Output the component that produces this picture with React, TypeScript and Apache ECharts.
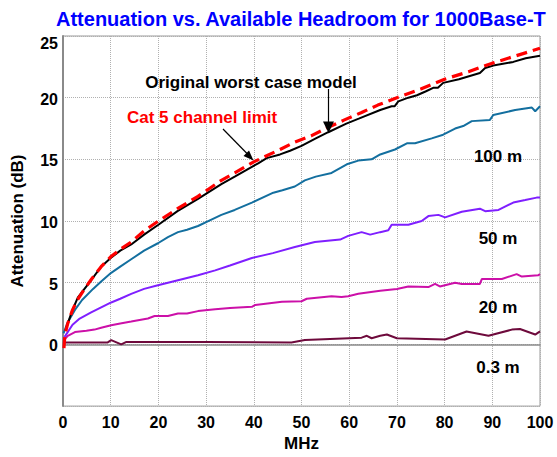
import React, { useEffect, useRef } from "react";
import * as echarts from "echarts";

const FONT = 'Arial, "Liberation Sans", sans-serif';

const titleText = "Attenuation vs. Available Headroom for 1000Base-T";
const xAxisName = "MHz";
const yAxisName = "Attenuation (dB)";
const xTicks = { min: 0, max: 100, interval: 10 };
const yTicks = { min: -5, max: 25, interval: 5 };

const cat5Limit: number[][] = [
  [0.2, -0.3], [0.4, 0.8], [1, 1.7], [2, 2.8], [3, 3.6], [4.5, 4.5], [6, 5.3], [8, 6.3],
  [10, 7.1], [12, 7.7], [14.3, 8.3], [17, 9.2], [20, 10.0], [24, 11.0], [28.3, 12.0],
  [33.2, 13.3], [36, 13.9], [40, 14.8], [45.5, 15.8], [48.6, 16.4], [52, 16.9], [55.6, 17.6],
  [59, 18.2], [62.6, 18.8], [66, 19.4], [70, 20.0], [75, 20.7], [80, 21.5], [85, 22.1],
  [90, 22.8], [95, 23.4], [100, 24.0],
];

const worstCase: number[][] = [
  [0.5, 1.1], [1, 1.7], [2, 2.8], [3.1, 3.8], [4.5, 4.5], [5.9, 5.2], [8, 6.3], [10, 7.0],
  [12, 7.6], [14.3, 8.1], [17, 8.9], [20, 9.7], [24, 10.8], [28.3, 11.8], [33.2, 13.0],
  [36, 13.6], [39.6, 14.4], [41, 14.7], [42.7, 15.1], [45.5, 15.4], [47.6, 15.7], [50, 16.1],
  [53, 16.7], [55.6, 17.2], [59.4, 17.9], [62, 18.3], [66.5, 19.0], [68.9, 19.3], [69.5, 19.3],
  [70.3, 19.7], [72.4, 20.0], [74.2, 20.2], [76, 20.5], [77.6, 20.8], [78.6, 20.8], [79.7, 21.2],
  [83, 21.5], [87.4, 22.0], [88.5, 22.4], [90.2, 22.6], [94.4, 22.9], [97, 23.2], [100, 23.4],
];

const len100m: number[][] = [
  [0.1, 0.9], [1, 1.8], [2.5, 2.8], [4, 3.6], [6.3, 4.5], [8, 5.1], [10.1, 5.8], [12, 6.3],
  [14.3, 6.9], [17, 7.6], [19.9, 8.2], [22, 8.7], [24.1, 9.1], [26, 9.3], [28.3, 9.6],
  [31, 10.1], [33.2, 10.5], [36, 10.9], [39.6, 11.5], [44.1, 12.3], [46, 12.5], [48.6, 12.8],
  [50.7, 13.3], [53, 13.6], [56.3, 13.9], [59.5, 14.6], [61.9, 14.9], [64.7, 15.0], [66.5, 15.4],
  [69.6, 15.8], [72.1, 16.3], [73.8, 16.3], [77.3, 16.7], [79.7, 17.0], [82.2, 17.5],
  [83.9, 17.7], [85.7, 18.1], [89.5, 18.2], [90.2, 18.6], [94.8, 19.0], [98.3, 19.2],
  [99, 18.9], [100, 19.3],
];

const len50m: number[][] = [
  [0.3, 0.6], [1, 1.0], [2, 1.6], [3.5, 2.1], [5.9, 2.6], [8, 3.0], [10.1, 3.4], [12, 3.7],
  [14.3, 4.1], [17, 4.5], [19.9, 4.8], [22, 5.0], [24.1, 5.2], [28.3, 5.6], [31.9, 6.0],
  [35, 6.4], [39.6, 7.0], [44, 7.4], [48.6, 7.9], [52.8, 8.3], [58.1, 8.5], [59.8, 8.8],
  [62.6, 9.1], [64.4, 8.9], [66.5, 9.1], [68.2, 9.25], [68.9, 9.7], [72.4, 9.7], [75.2, 10.0],
  [76.6, 10.4], [78.7, 10.5], [80.1, 10.3], [83.6, 10.75], [87.4, 11.0], [88.5, 10.8],
  [91.3, 10.9], [94.4, 11.5], [96.9, 11.7], [99.3, 11.9], [100, 11.9],
];

const len20m: number[][] = [
  [0.3, 0.4], [1, 0.7], [2.5, 1.0], [4.9, 1.1], [6.6, 1.2], [8, 1.35], [10.1, 1.55], [12, 1.7],
  [14.3, 1.85], [17.8, 2.1], [19.2, 2.3], [22, 2.3], [24.1, 2.5], [26, 2.5], [28.3, 2.7],
  [31.9, 2.85], [35, 2.95], [39.6, 3.05], [40.3, 3.2], [45.9, 3.45], [50, 3.5], [51.1, 3.7],
  [56.3, 3.9], [58.4, 3.85], [59.8, 3.9], [61.9, 4.1], [66.5, 4.35], [70, 4.5], [72.4, 4.7],
  [76.6, 4.65], [78, 4.9], [79, 4.7], [82.2, 5.0], [83.6, 4.9], [87.4, 4.9], [87.8, 5.3],
  [92, 5.3], [95.1, 5.7], [96.2, 5.5], [99.6, 5.6], [100, 5.7],
];

const len03m: number[][] = [
  [0.3, 0.15], [9.3, 0.15], [10.1, 0.35], [12.2, 0.0], [13.3, 0.2], [30, 0.2], [47.9, 0.15],
  [50.7, 0.35], [62.6, 0.55], [63.7, 0.7], [64.7, 0.5], [66.5, 0.7], [67.9, 0.8], [70, 0.5],
  [80.1, 0.4], [84.6, 1.05], [89.2, 0.7], [94.1, 1.2], [95.8, 1.25], [99, 0.8], [100, 1.05],
];

const lineSeries = [
  { name: "0.3 m", data: len03m, color: "#6e0a3c", width: 2, dashed: false },
  { name: "20 m", data: len20m, color: "#cc10a8", width: 2, dashed: false },
  { name: "50 m", data: len50m, color: "#7f1fff", width: 2, dashed: false },
  { name: "100 m", data: len100m, color: "#136f9f", width: 2, dashed: false },
  { name: "Original worst case model", data: worstCase, color: "#000000", width: 2, dashed: false },
  { name: "Cat 5 channel limit", data: cat5Limit, color: "#ff0000", width: 3.2, dashed: true },
];

export default function App() {
  const ref = useRef<HTMLDivElement>(null);
  useEffect(() => {
    if (!ref.current) return;
    const chart = echarts.init(ref.current, null, { renderer: "svg" });
    const bold = { fontFamily: FONT, fontWeight: "bold" as const };
    const labelText = (text: string, x: number, y: number, color = "#000", align = "center") => ({
      type: "text",
      x,
      y,
      style: { text, fill: color, font: `bold 17px ${FONT}`, align, verticalAlign: "middle" },
      z: 100,
    });
    chart.setOption({
      animation: false,
      backgroundColor: "#ffffff",
      title: {
        text: titleText,
        left: 51,
        top: 4,
        textStyle: { ...bold, fontSize: 20, color: "#0000ff" },
      },
      grid: {
        left: 63,
        right: 17,
        top: 36,
        bottom: 46,
        show: true,
        borderColor: "#9a9a9a",
        borderWidth: 1,
      },
      xAxis: {
        type: "value",
        ...xTicks,
        name: xAxisName,
        nameLocation: "middle",
        nameGap: 25,
        nameTextStyle: { ...bold, fontSize: 17, color: "#000" },
        axisLine: { show: true, lineStyle: { color: "#8a8a8a", width: 1.5 } },
        axisTick: { show: false },
        axisLabel: { ...bold, fontSize: 16, color: "#000", margin: 8 },
        splitLine: { show: true, lineStyle: { color: "#b0b0b0", type: "dotted", width: 1 } },
      },
      yAxis: {
        type: "value",
        ...yTicks,
        name: yAxisName,
        nameLocation: "middle",
        nameGap: 37,
        nameTextStyle: { ...bold, fontSize: 17, color: "#000" },
        axisLine: { show: true, lineStyle: { color: "#8a8a8a", width: 2 } },
        axisTick: { show: false },
        axisLabel: {
          ...bold,
          fontSize: 16,
          color: "#000",
          margin: 5,
          formatter: (v: number) => (v < 0 ? "" : v === yTicks.max ? `{top|${v}}` : `{n|${v}}`),
          rich: {
            top: { ...bold, fontSize: 16, color: "#000", padding: [14, 0, 0, 0] },
            n: { ...bold, fontSize: 16, color: "#000", padding: [3, 0, 0, 0] },
          },
        },
        splitLine: { show: true, lineStyle: { color: "#b0b0b0", type: "dotted", width: 1 } },
      },
      series: lineSeries.map((s) => ({
        type: "line",
        name: s.name,
        data: s.data,
        showSymbol: false,
        symbol: "none",
        lineStyle: { color: s.color, width: s.width, type: s.dashed ? [11, 6] : "solid" },
        itemStyle: { color: s.color },
        z: s.dashed ? 3 : 2,
      })),
      graphic: [
        labelText("Original worst case model", 251, 82),
        labelText("Cat 5 channel limit", 127, 117, "#ff0000", "left"),
        labelText("100 m", 498, 156),
        labelText("50 m", 498, 238),
        labelText("20 m", 498, 307),
        labelText("0.3 m", 498, 367),
        {
          type: "line",
          shape: { x1: 223, y1: 129, x2: 247, y2: 153.5 },
          style: { stroke: "#000", lineWidth: 1.2 },
          z: 100,
        },
        {
          type: "polygon",
          shape: { points: [[253.5, 160.5], [243.5, 156], [249, 150.5]] },
          style: { fill: "#000" },
          z: 100,
        },
        {
          type: "line",
          shape: { x1: 328.5, y1: 89, x2: 328.5, y2: 123 },
          style: { stroke: "#000", lineWidth: 1.2 },
          z: 100,
        },
        {
          type: "polygon",
          shape: { points: [[328.5, 133], [323, 121.5], [334, 121.5]] },
          style: { fill: "#000" },
          z: 100,
        },
      ],
    });
    return () => chart.dispose();
  }, []);
  return (
    <div
      ref={ref}
      style={{ position: "fixed", left: 0, top: 0, width: 557, height: 457, background: "#fff" }}
    />
  );
}
